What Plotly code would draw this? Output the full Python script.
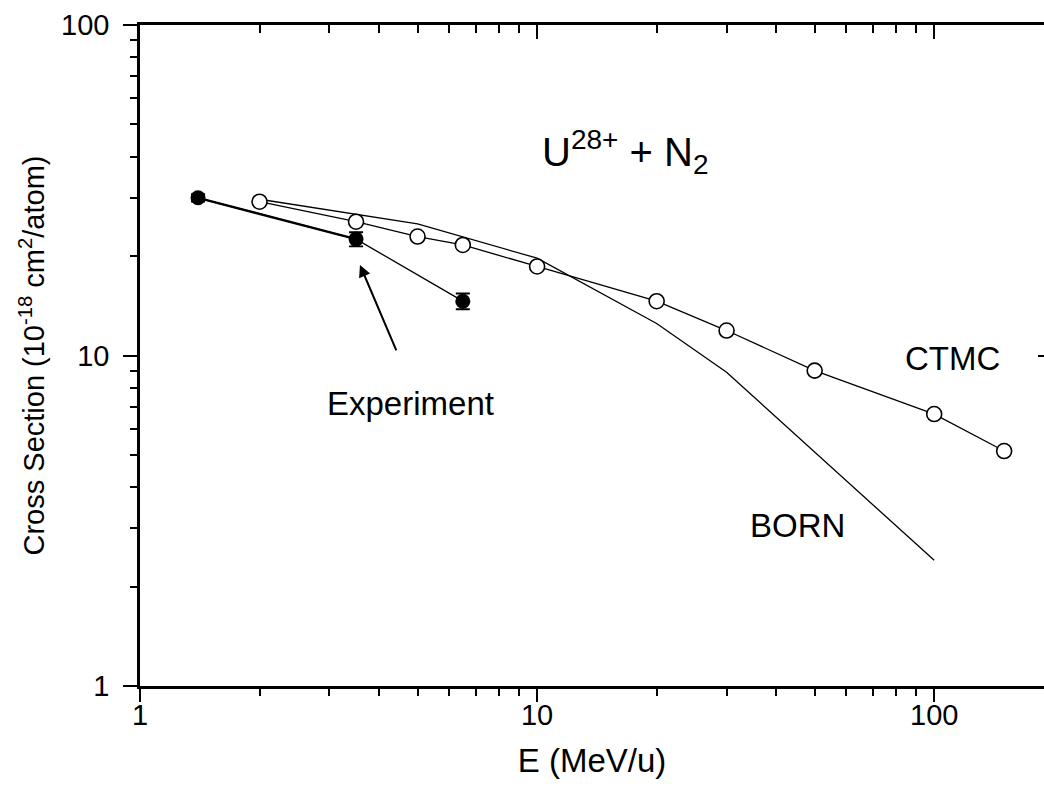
import math
import plotly.graph_objects as go

# ---- data ----
exp_x = [1.4, 3.5, 6.5]
exp_y = [30.0, 22.5, 14.6]
exp_err = [0.8, 1.1, 0.8]

ctmc_x = [2, 3.5, 5, 6.5, 10, 20, 30, 50, 100, 150]
ctmc_y = [29.2, 25.4, 22.9, 21.6, 18.6, 14.6, 11.9, 9.0, 6.65, 5.14]

born_x = [2, 3.5, 5, 10, 20, 30, 50, 100]
born_y = [29.7, 26.7, 25.0, 19.7, 12.5, 8.9, 5.1, 2.4]

major_ticks = [1, 10, 100]
major_labels = ["1", "10", "100"]
minor_ticks = [m * d for d in (1, 10, 100) for m in range(2, 10)]

X_MAX = 189
FONT = "Liberation Sans, Arial, sans-serif"

fig = go.Figure()

# BORN
fig.add_trace(go.Scatter(x=born_x, y=born_y, mode="lines",
                         line=dict(color="black", width=1.3), hoverinfo="skip"))
# CTMC
fig.add_trace(go.Scatter(x=ctmc_x, y=ctmc_y, mode="lines+markers",
                         line=dict(color="black", width=1.3),
                         marker=dict(symbol="circle", size=15, color="white",
                                     line=dict(color="black", width=1.6)),
                         hoverinfo="skip"))
# Experiment connecting lines
fig.add_trace(go.Scatter(x=exp_x, y=exp_y, mode="lines",
                         line=dict(color="black", width=1.3), hoverinfo="skip"))
fig.add_trace(go.Scatter(x=exp_x[:2], y=exp_y[:2], mode="lines",
                         line=dict(color="black", width=2.4), hoverinfo="skip"))
# Experiment points
fig.add_trace(go.Scatter(x=exp_x, y=exp_y, mode="markers",
                         marker=dict(symbol="circle", size=15, color="black"),
                         error_y=dict(type="data", array=exp_err, color="black",
                                      thickness=1.8, width=7),
                         hoverinfo="skip"))
# invisible trace to anchor the mirror axes
fig.add_trace(go.Scatter(x=ctmc_x, y=ctmc_y, xaxis="x2", yaxis="y2", mode="lines",
                         line=dict(width=0, color="rgba(0,0,0,0)"), hoverinfo="skip"))

tickfont = dict(family=FONT, size=29, color="black")
xr = [0, math.log10(X_MAX)]
yr = [0, 2]

fig.update_layout(
    width=1044, height=787,
    margin=dict(l=140, r=0, t=25, b=101),
    paper_bgcolor="white", plot_bgcolor="white",
    showlegend=False,
    font=dict(family=FONT, color="black"),
    xaxis=dict(type="log", range=xr, showgrid=False, zeroline=False,
               showline=True, linecolor="black", linewidth=2.5,
               tickmode="array", tickvals=major_ticks, ticktext=major_labels,
               ticks="outside", ticklen=13, tickwidth=2, tickcolor="black",
               tickfont=tickfont, ticklabelstandoff=-12,
               minor=dict(tickmode="array", tickvals=minor_ticks, ticks="outside",
                          ticklen=7, tickwidth=2, tickcolor="black", showgrid=False),
               title=dict(text="E (MeV/u)", font=dict(family=FONT, size=33), standoff=20)),
    yaxis=dict(type="log", range=yr, showgrid=False, zeroline=False,
               showline=True, linecolor="black", linewidth=2.5,
               tickmode="array", tickvals=major_ticks, ticktext=major_labels,
               ticks="outside", ticklen=14, tickwidth=2, tickcolor="black",
               tickfont=tickfont, ticklabelstandoff=8,
               minor=dict(tickmode="array", tickvals=minor_ticks, ticks="outside",
                          ticklen=7, tickwidth=2, tickcolor="black", showgrid=False),
               title=dict(text="Cross Section (10<sup>-18</sup> cm<sup>2</sup>/atom)",
                          font=dict(family=FONT, size=29), standoff=8)),
    xaxis2=dict(type="log", range=xr, overlaying="x", side="top", anchor="y",
                showgrid=False, zeroline=False, showline=True, linecolor="black",
                linewidth=2.5, showticklabels=False,
                tickmode="array", tickvals=major_ticks,
                ticks="inside", ticklen=14, tickwidth=2, tickcolor="black",
                minor=dict(tickmode="array", tickvals=minor_ticks, ticks="inside",
                           ticklen=8, tickwidth=2, tickcolor="black", showgrid=False)),
    yaxis2=dict(type="log", range=yr, overlaying="y", side="right", anchor="x",
                showgrid=False, zeroline=False, showline=False, showticklabels=False,
                tickmode="array", tickvals=major_ticks,
                ticks="inside", ticklen=6, tickwidth=2, tickcolor="black"),
)

ann_font = dict(family=FONT, size=33, color="black")
fig.add_annotation(x=math.log10(3.58), y=math.log10(18.8), xref="x", yref="y",
                   ax=37, ay=87, axref="pixel", ayref="pixel", text="",
                   showarrow=True, arrowhead=2, arrowsize=1.2, arrowwidth=2,
                   arrowcolor="black")
fig.add_annotation(x=0.466, y=0.856, xref="x", yref="y", text="Experiment",
                   showarrow=False, xanchor="left", yanchor="middle", font=ann_font)
fig.add_annotation(x=1.922, y=0.992, xref="x", yref="y", text="CTMC",
                   showarrow=False, xanchor="left", yanchor="middle", font=ann_font)
fig.add_annotation(x=1.781, y=0.486, xref="x", yref="y", text="BORN",
                   showarrow=False, xanchor="right", yanchor="middle", font=ann_font)
fig.add_annotation(x=1.0076, y=1.616, xref="x", yref="y",
                   text="U<sup>28+</sup> + N<sub>2</sub>",
                   showarrow=False, xanchor="left", yanchor="middle",
                   font=dict(family=FONT, size=40, color="black"))

fig.write_html("out.html")
